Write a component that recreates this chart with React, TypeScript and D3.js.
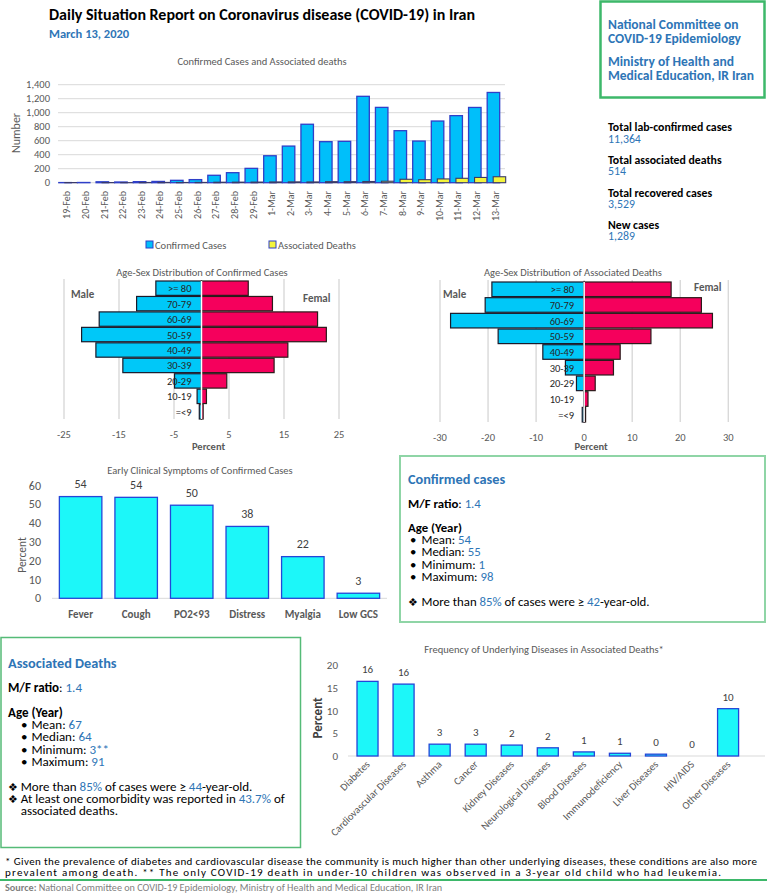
import React from 'react'
import * as d3 from 'd3'

const FONT = 'Carlito, Calibri, Lato, sans-serif'
const GREY = '#595959'
const BLUE_TXT = '#2E75B6'

// daily counts
const days = ['19-Feb', '20-Feb', '21-Feb', '22-Feb', '23-Feb', '24-Feb', '25-Feb', '26-Feb', '27-Feb', '28-Feb', '29-Feb', '1-Mar', '2-Mar', '3-Mar', '4-Mar', '5-Mar', '6-Mar', '7-Mar', '8-Mar', '9-Mar', '10-Mar', '11-Mar', '12-Mar', '13-Mar']
const confirmed = [2, 3, 13, 10, 15, 18, 34, 44, 106, 143, 205, 385, 523, 835, 586, 591, 1234, 1076, 743, 595, 881, 958, 1075, 1289]
const deaths = [2, 0, 2, 1, 3, 4, 3, 4, 7, 8, 9, 11, 12, 11, 15, 15, 17, 21, 49, 43, 54, 63, 75, 85]
const countTicks = [0, 200, 400, 600, 800, 1000, 1200, 1400]

// age-sex pyramids
const ageGroups = ['>= 80', '70-79', '60-69', '50-59', '40-49', '30-39', '20-29', '10-19', '=<9']
const caseMale = [8.3, 11.8, 18.6, 21.8, 19.2, 14.3, 4.9, 0.8, 0.4]
const caseFemale = [8.5, 12.9, 21.1, 22.7, 15.7, 13.2, 4.6, 0.9, 0.3]
const deathMale = [19.2, 20.6, 27.8, 17.9, 8.6, 3.9, 1.6, 0.1, 0.4]
const deathFemale = [18.1, 24.4, 26.7, 13.9, 7.5, 6.1, 2.3, 0.8, 0.3]
const caseTicks = [-25, -15, -5, 5, 15, 25]
const deathTicks = [-30, -20, -10, 0, 10, 20, 30]

// symptoms
const symptoms = ['Fever', 'Cough', 'PO2<93', 'Distress', 'Myalgia', 'Low GCS']
const symptomPct = [54.2, 53.8, 49.6, 38.3, 22.2, 2.7]
const symptomTicks = [0, 10, 20, 30, 40, 50, 60]

// underlying diseases
const diseases = ['Diabetes', 'Cardiovascular Diseases', 'Asthma', 'Cancer', 'Kidney Diseases', 'Neurological Diseases', 'Blood Diseases', 'Immunodeficiency', 'Liver Diseases', 'HIV/AIDS', 'Other Diseases']
const diseasePct = [16.4, 15.8, 2.6, 2.6, 2.4, 1.8, 0.9, 0.6, 0.4, 0, 10.4]
const diseaseTicks = [0, 5, 10, 15, 20]

const fmt0 = d3.format('.0f')
const fmtC = d3.format(',')

function DailyChart() {
  const x = d3.scaleBand().domain(days).range([58, 505])
  const y = d3.scaleLinear().domain([0, 1400]).range([182.7, 84.7])
  const bw = 12.5
  return (
    <g>
      <text x={262} y={65} textAnchor="middle" fontSize={10.5} fill={GREY}>Confirmed  Cases and Associated deaths</text>
      {countTicks.map(t => (
        <g key={t}>
          <line x1={58} x2={505} y1={y(t)} y2={y(t)} stroke="#D9D9D9" />
          <text x={50} y={y(t) + 3.5} textAnchor="end" fontSize={10.5} fill={GREY}>{fmtC(t)}</text>
        </g>
      ))}
      <text transform={`translate(20,133) rotate(-90)`} textAnchor="middle" fontSize={12} fill={GREY}>Number</text>
      {days.map((d, i) => {
        const c = x(d)! + x.bandwidth() / 2
        return (
          <g key={d}>
            <rect x={c - 8.5} y={y(confirmed[i])} width={bw} height={y(0) - y(confirmed[i])} fill="#00BFFA" stroke="#2F3FC8" strokeWidth={1.3} />
            <rect x={c - 2.5} y={y(deaths[i])} width={bw} height={y(0) - y(deaths[i])} fill="#F4F43C" stroke="#3A3A6A" strokeWidth={1.1} />
            <text transform={`translate(${c + 3},191) rotate(-90)`} textAnchor="end" fontSize={10} fill={GREY}>{d}</text>
          </g>
        )
      })}
      <rect x={146} y={241} width={7} height={7} fill="#00BFFA" stroke="#2F3FC8" />
      <text x={155} y={248.5} fontSize={10.5} fill={GREY}>Confirmed Cases</text>
      <rect x={269} y={241} width={7} height={7} fill="#F4F43C" stroke="#2F3FC8" />
      <text x={278} y={248.5} fontSize={10.5} fill={GREY}>Associated Deaths</text>
    </g>
  )
}

function Pyramid({ title, male, female, ticks, domain, range, yRange, titleX, labelY, maleX, maleY, femX, femY }: any) {
  const x = d3.scaleLinear().domain(domain).range(range)
  const y = d3.scaleBand().domain(ageGroups).range(yRange).paddingInner(0.07)
  const x0 = x(0)
  return (
    <g>
      <text x={titleX} y={276} textAnchor="middle" fontSize={10.5} fill={GREY}>{title}</text>
      {ticks.map((t: number) => (
        <g key={t}>
          <line x1={x(t)} x2={x(t)} y1={yRange[0] - 2} y2={yRange[1]} stroke="#D9D9D9" strokeWidth={1.4} />
          <text x={x(t)} y={labelY} textAnchor="middle" fontSize={10.5} fill={GREY}>{t}</text>
        </g>
      ))}
      {ageGroups.map((g, i) => (
        <g key={g}>
          <rect x={x(-male[i])} y={y(g)} width={x0 - x(-male[i])} height={y.bandwidth()} fill="#00C8F8" stroke="#1A1A2A" strokeWidth={1.2} />
          <rect x={x0} y={y(g)} width={x(female[i]) - x0} height={y.bandwidth()} fill="#F5005C" stroke="#2A1A1A" strokeWidth={1.2} />
        </g>
      ))}
      <line x1={x0} x2={x0} y1={yRange[0]} y2={yRange[1]} stroke="#fff" strokeWidth={1.5} />
      {ageGroups.map(g => (
        <text key={g} x={x0 - 10} y={y(g)! + y.bandwidth() / 2 + 4} textAnchor="end" fontSize={10.5} fill="#262626">{g}</text>
      ))}
      <text x={maleX} y={maleY} fontSize={11} fontWeight="bold" fill={GREY}>Male</text>
      <text x={femX} y={femY} fontSize={11} fontWeight="bold" fill={GREY}>Femal</text>
      <text x={x0 + 7} y={450} textAnchor="middle" fontSize={10.5} fontWeight="bold" fill={GREY}>Percent</text>
    </g>
  )
}

function SymptomChart() {
  const x = d3.scaleBand().domain(symptoms).range([52.7, 386.3]).paddingInner(0.235).paddingOuter(0.12)
  const y = d3.scaleLinear().domain([0, 60]).range([598.3, 485.7])
  return (
    <g>
      <text x={200} y={474} textAnchor="middle" fontSize={10.5} fill={GREY}>Early Clinical Symptoms of Confirmed Cases</text>
      <line x1={52} x2={387} y1={y(0)} y2={y(0)} stroke="#D9D9D9" />
      {symptomTicks.map(t => (
        <text key={t} x={41} y={y(t) + 4} textAnchor="end" fontSize={12} fill={GREY}>{t}</text>
      ))}
      <text transform="translate(26,555) rotate(-90)" textAnchor="middle" fontSize={11.5} fill={GREY}>Percent</text>
      {symptoms.map((s, i) => {
        const bx = x(s)!
        const c = bx + x.bandwidth() / 2
        return (
          <g key={s}>
            <rect x={bx} y={y(symptomPct[i])} width={x.bandwidth()} height={y(0) - y(symptomPct[i])} fill="#1CF7F9" stroke="#2446D8" strokeWidth={1.3} />
            <text x={c} y={y(symptomPct[i]) - 8.5} textAnchor="middle" fontSize={12} fill="#404040">{fmt0(symptomPct[i])}</text>
            <text x={c} y={618} textAnchor="middle" fontSize={11} fontWeight="bold" fill={GREY}>{s}</text>
          </g>
        )
      })}
    </g>
  )
}

function DiseaseChart() {
  const x = d3.scaleBand().domain(diseases).range([349.8, 745.8]).paddingInner(0.417).paddingOuter(0.2)
  const y = d3.scaleLinear().domain([0, 20]).range([756, 665])
  return (
    <g>
      <text x={544} y={653} textAnchor="middle" fontSize={10.5} fill={GREY}>Frequency of Underlying Diseases in Associated Deaths*</text>
      <line x1={348} x2={765} y1={y(0)} y2={y(0)} stroke="#D9D9D9" />
      {diseaseTicks.map(t => (
        <text key={t} x={338} y={y(t) + 4} textAnchor="end" fontSize={11} fill={GREY}>{t}</text>
      ))}
      <text transform="translate(322,718) rotate(-90)" textAnchor="middle" fontSize={13} fontWeight="bold" fill="#404040">Percent</text>
      {diseases.map((d, i) => {
        const bx = x(d)!
        const c = bx + x.bandwidth() / 2
        return (
          <g key={d}>
            {diseasePct[i] > 0 && (
              <rect x={bx} y={y(diseasePct[i])} width={x.bandwidth()} height={y(0) - y(diseasePct[i])} fill="#1CF7F9" stroke="#2446D8" strokeWidth={1.3} />
            )}
            <text x={c} y={y(diseasePct[i]) - 8} textAnchor="middle" fontSize={11} fill="#404040">{fmt0(diseasePct[i])}</text>
            <text transform={`translate(${c + 3},765) rotate(-45)`} textAnchor="end" fontSize={10.5} fill={GREY}>{d}</text>
          </g>
        )
      })}
    </g>
  )
}

const B = ({ children }: any) => <tspan fill={BLUE_TXT}>{children}</tspan>

export default function App() {
  return (
    <svg width={767} height={894} style={{ position: 'absolute', left: 0, top: 0, background: '#fff' }} fontFamily={FONT}>
      <rect width={767} height={894} fill="#fff" />
      <text x={49} y={20} fontSize={16} fontWeight="bold" fill="#000">Daily Situation Report on Coronavirus disease (COVID-19) in Iran</text>
      <text x={49} y={37.5} fontSize={12.5} fontWeight="bold" fill={BLUE_TXT}>March 13, 2020</text>

      <rect x={600.5} y={1.5} width={164} height={96} fill="#fff" stroke="#3DB86A" strokeWidth={2.5} />
      <g fontSize={13.5} fontWeight="bold" fill={BLUE_TXT}>
        <text x={608} y={29}>National Committee on</text>
        <text x={608} y={43}>COVID-19 Epidemiology</text>
        <text x={608} y={66}>Ministry of Health and</text>
        <text x={608} y={80}>Medical Education, IR Iran</text>
      </g>
      <g fontSize={11.8}>
        <text x={608} y={131} fontWeight="bold">Total lab-confirmed cases</text>
        <text x={608} y={142.5} fill={BLUE_TXT}>11,364</text>
        <text x={608} y={164} fontWeight="bold">Total associated deaths</text>
        <text x={608} y={175} fill={BLUE_TXT}>514</text>
        <text x={608} y={196.5} fontWeight="bold">Total recovered cases</text>
        <text x={608} y={207.5} fill={BLUE_TXT}>3,529</text>
        <text x={608} y={229} fontWeight="bold">New cases</text>
        <text x={608} y={240} fill={BLUE_TXT}>1,289</text>
      </g>

      <DailyChart />

      <Pyramid title="Age-Sex Distribution of Confirmed Cases" male={caseMale} female={caseFemale} ticks={caseTicks}
        domain={[-25, 25]} range={[64, 339]} yRange={[281, 419]} titleX={202} labelY={438}
        maleX={71} maleY={298} femX={303} femY={302} />
      <Pyramid title="Age-Sex Distribution of Associated Deaths" male={deathMale} female={deathFemale} ticks={deathTicks}
        domain={[-30, 30]} range={[440, 728.3]} yRange={[282, 422]} titleX={573} labelY={441}
        maleX={443} maleY={298} femX={694} femY={291} />

      <SymptomChart />

      <rect x={400} y={456} width={365} height={166} fill="#fff" stroke="#8FD5A6" strokeWidth={2} />
      <g fontSize={12.8} fill="#000">
        <text x={408} y={483.5} fontSize={14.3} fontWeight="bold" fill={BLUE_TXT}>Confirmed cases</text>
        <text x={408} y={507.5}><tspan fontWeight="bold">M/F ratio</tspan>: <B>1.4</B></text>
        <text x={408} y={531.5} fontWeight="bold">Age (Year)</text>
        <text x={410} y={543.5}>•</text><text x={421.5} y={543.5}>Mean: <B>54</B></text>
        <text x={410} y={556}>•</text><text x={421.5} y={556}>Median: <B>55</B></text>
        <text x={410} y={568.5}>•</text><text x={421.5} y={568.5}>Minimum: <B>1</B></text>
        <text x={410} y={581}>•</text><text x={421.5} y={581}>Maximum: <B>98</B></text>
        <text x={408} y={606} fontSize={11}>❖</text>
        <text x={421.5} y={606}>More than <B>85%</B> of cases were ≥ <B>42</B>-year-old.</text>
      </g>

      <DiseaseChart />

      <rect x={1} y={637.5} width={299.5} height={210} fill="#fff" stroke="#55BB77" strokeWidth={1.5} />
      <g fontSize={13} fill="#000">
        <text x={8} y={668} fontSize={14.3} fontWeight="bold" fill={BLUE_TXT}>Associated Deaths</text>
        <text x={8} y={691.5}><tspan fontWeight="bold">M/F ratio</tspan>: <B>1.4</B></text>
        <text x={8} y={716.5} fontWeight="bold">Age (Year)</text>
        <text x={21} y={728.5}>•</text><text x={31.5} y={728.5}>Mean: <B>67</B></text>
        <text x={21} y={741}>•</text><text x={31.5} y={741}>Median: <B>64</B></text>
        <text x={21} y={753.5}>•</text><text x={31.5} y={753.5}>Minimum: <B>3**</B></text>
        <text x={21} y={766}>•</text><text x={31.5} y={766}>Maximum: <B>91</B></text>
        <text x={8} y={791} fontSize={11}>❖</text>
        <text x={20.7} y={791}>More than <B>85%</B> of cases were ≥ <B>44</B>-year-old.</text>
        <text x={8} y={803} fontSize={11}>❖</text>
        <text x={20.7} y={803}>At least one comorbidity was reported in <B>43.7%</B> of</text>
        <text x={20.7} y={815}>associated deaths.</text>
      </g>

      <text x={5} y={865} fontSize={11} fill="#000" textLength={752} lengthAdjust="spacing">* Given the prevalence of diabetes and cardiovascular disease the community is much higher than other underlying diseases, these conditions are also more</text>
      <text x={5} y={876} fontSize={11} fill="#000" textLength={716} lengthAdjust="spacing">prevalent among death. ** The only COVID-19 death in under-10 children was observed in a 3-year old child who had leukemia.</text>
      <line x1={0} x2={767} y1={880} y2={880} stroke="#3DB86A" strokeWidth={2} />
      <text x={5} y={891} fontSize={10.2} fill="#7F7F7F"><tspan fontWeight="bold">Source:</tspan> National Committee on COVID-19 Epidemiology, Ministry of Health and Medical Education, IR Iran</text>
    </svg>
  )
}
